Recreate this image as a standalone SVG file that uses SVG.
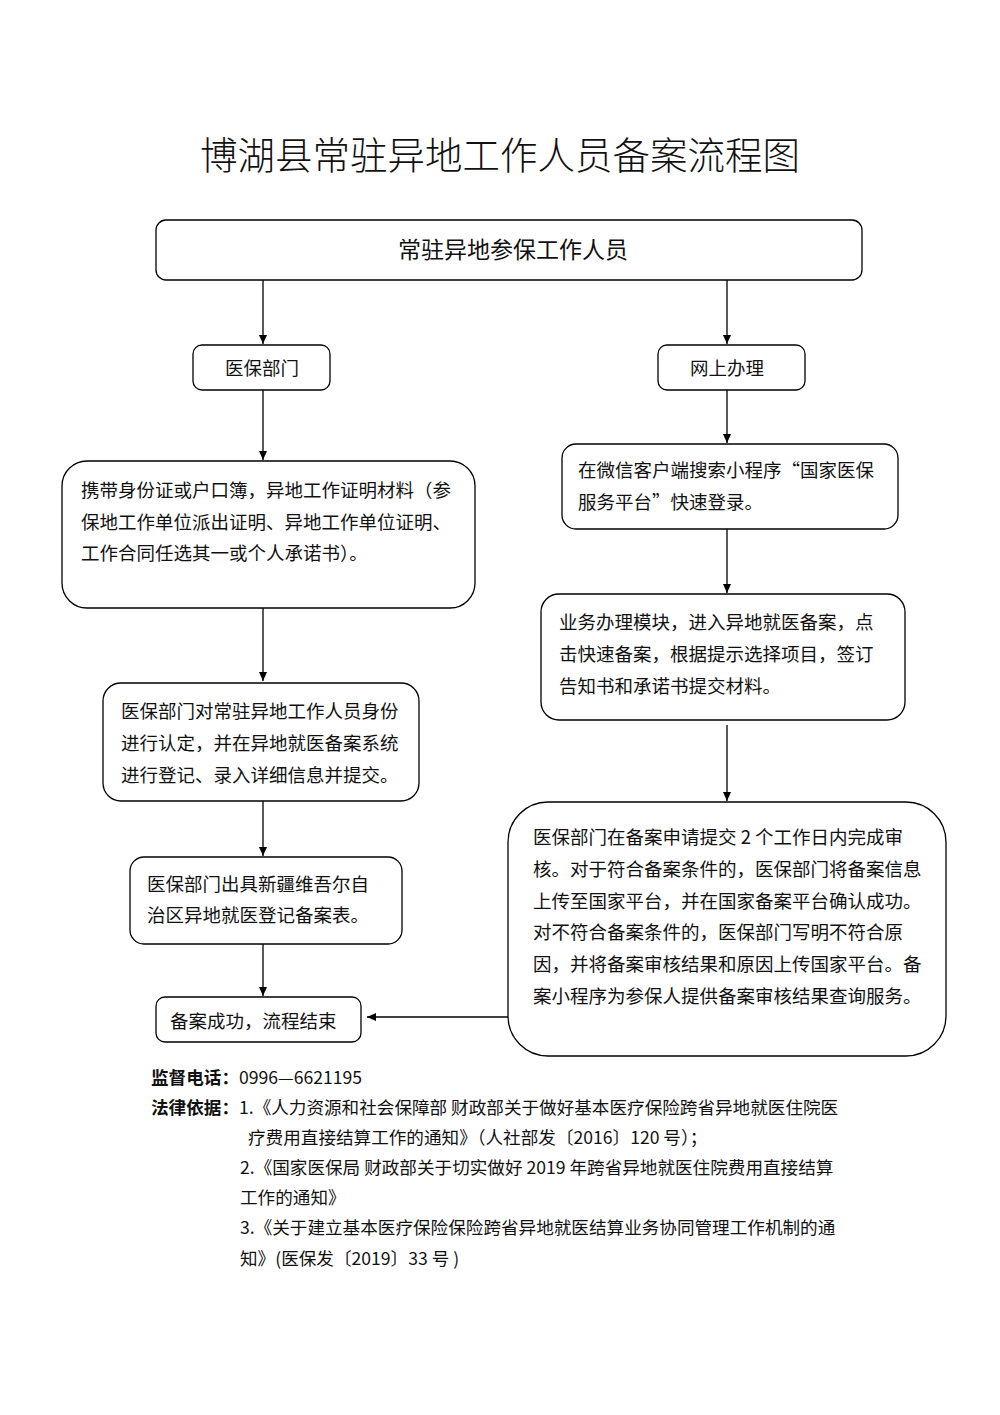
<svg xmlns="http://www.w3.org/2000/svg" width="1000" height="1415" viewBox="0 0 1000 1415">
<defs>
<style>
.box{fill:#fff;stroke:#000;stroke-width:1.3}
.t{font-family:"Noto Sans CJK SC","Liberation Sans",sans-serif;font-size:18.5px;fill:#111}
.s{font-size:17.6px}
.b{font-weight:bold}
.c{text-anchor:middle}
.ln{stroke:#000;stroke-width:1.3;fill:none}
</style>
<marker id="ah" markerWidth="10" markerHeight="10" refX="9" refY="5" orient="auto" markerUnits="userSpaceOnUse">
<path d="M0,1 L9,5 L0,9 Z" fill="#000"/>
</marker>
</defs>
<rect width="1000" height="1415" fill="#fff"/>
<text class="t c" x="500" y="169" style="font-size:37.5px;font-weight:300">博湖县常驻异地工作人员备案流程图</text>

<g id="connectors">
<line class="ln" x1="263" y1="280" x2="263" y2="344" marker-end="url(#ah)"/>
<line class="ln" x1="727" y1="280" x2="727" y2="344" marker-end="url(#ah)"/>
<line class="ln" x1="263" y1="390" x2="263" y2="460" marker-end="url(#ah)"/>
<line class="ln" x1="727" y1="390" x2="727" y2="443" marker-end="url(#ah)"/>
<line class="ln" x1="263" y1="608" x2="263" y2="681" marker-end="url(#ah)"/>
<line class="ln" x1="727" y1="529" x2="727" y2="593" marker-end="url(#ah)"/>
<line class="ln" x1="263" y1="801" x2="263" y2="856" marker-end="url(#ah)"/>
<line class="ln" x1="727" y1="725" x2="727" y2="801" marker-end="url(#ah)"/>
<line class="ln" x1="263" y1="944" x2="263" y2="996" marker-end="url(#ah)"/>
<line class="ln" x1="508" y1="1017" x2="367" y2="1017" marker-end="url(#ah)"/>
</g>

<g id="n-start">
<rect class="box" x="156" y="220" width="706" height="60" rx="10"/>
<text class="t c" x="513" y="258" style="font-size:23px">常驻异地参保工作人员</text>
</g>
<g id="n-ybbm">
<rect class="box" x="193" y="345" width="137" height="45" rx="9"/>
<text class="t c" x="262" y="375">医保部门</text>
</g>
<g id="n-wsbl">
<rect class="box" x="658" y="345" width="147" height="45" rx="9"/>
<text class="t c" x="727" y="375">网上办理</text>
</g>
<g id="n-l1">
<rect class="box" x="62" y="461" width="413" height="147" rx="25"/>
<text class="t" x="81" y="497">携带身份证或户口簿，异地工作证明材料（参</text>
<text class="t" x="81" y="529">保地工作单位派出证明、异地工作单位证明、</text>
<text class="t" x="81" y="560">工作合同任选其一或个人承诺书）。</text>
</g>
<g id="n-l2">
<rect class="box" x="103" y="683" width="316" height="118" rx="18"/>
<text class="t" x="121" y="718">医保部门对常驻异地工作人员身份</text>
<text class="t" x="121" y="750">进行认定，并在异地就医备案系统</text>
<text class="t" x="121" y="782">进行登记、录入详细信息并提交。</text>
</g>
<g id="n-l3">
<rect class="box" x="130" y="857" width="272" height="87" rx="14"/>
<text class="t" x="147" y="891">医保部门出具新疆维吾尔自</text>
<text class="t" x="147" y="922">治区异地就医登记备案表。</text>
</g>
<g id="n-end">
<rect class="box" x="156" y="997" width="205" height="45" rx="9"/>
<text class="t" x="170" y="1028">备案成功，流程结束</text>
</g>
<g id="n-r1">
<rect class="box" x="562" y="444" width="336" height="85" rx="14"/>
<text class="t" x="578" y="477">在微信客户端搜索小程序“国家医保</text>
<text class="t" x="578" y="509">服务平台”快速登录。</text>
</g>
<g id="n-r2">
<rect class="box" x="541" y="594" width="364" height="126" rx="18"/>
<text class="t" x="559" y="629">业务办理模块，进入异地就医备案，点</text>
<text class="t" x="559" y="661">击快速备案，根据提示选择项目，签订</text>
<text class="t" x="559" y="693">告知书和承诺书提交材料。</text>
</g>
<g id="n-r3">
<rect class="box" x="508" y="802" width="438" height="254" rx="40"/>
<text class="t" x="533" y="844">医保部门在备案申请提交 2 个工作日内完成审</text>
<text class="t" x="533" y="876">核。对于符合备案条件的，医保部门将备案信息</text>
<text class="t" x="533" y="908">上传至国家平台，并在国家备案平台确认成功。</text>
<text class="t" x="533" y="939">对不符合备案条件的，医保部门写明不符合原</text>
<text class="t" x="533" y="971">因，并将备案审核结果和原因上传国家平台。备</text>
<text class="t" x="533" y="1003">案小程序为参保人提供备案审核结果查询服务。</text>
</g>

<g id="footer">
<text class="t s" x="151" y="1084"><tspan class="b">监督电话：</tspan>0996—6621195</text>
<text class="t s" x="151" y="1114"><tspan class="b">法律依据：</tspan>1.《人力资源和社会保障部 财政部关于做好基本医疗保险跨省异地就医住院医</text>
<text class="t s" x="248" y="1144">疗费用直接结算工作的通知》（人社部发〔2016〕120 号）；</text>
<text class="t s" x="240" y="1174">2.《国家医保局 财政部关于切实做好 2019 年跨省异地就医住院费用直接结算</text>
<text class="t s" x="240" y="1204">工作的通知》</text>
<text class="t s" x="240" y="1234">3.《关于建立基本医疗保险保险跨省异地就医结算业务协同管理工作机制的通</text>
<text class="t s" x="240" y="1265">知》(医保发〔2019〕33 号 )</text>
</g>
</svg>
